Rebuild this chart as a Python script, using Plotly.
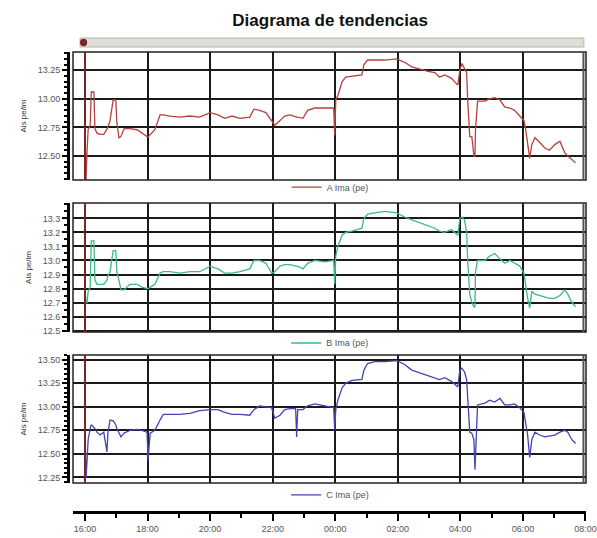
import plotly.graph_objects as go
from datetime import datetime

# ---------------- data ----------------
times = ["16:00", "16:02", "16:04", "16:06", "16:10", "16:12", "16:17", "16:19", "16:23", "16:29",
         "16:36", "16:42", "16:44", "16:48", "16:54", "16:59", "17:01", "17:05", "17:09", "17:15",
         "17:26", "17:40", "17:49", "17:59", "18:01", "18:05", "18:14", "18:24", "18:30", "18:43",
         "19:02", "19:21", "19:40", "20:00", "20:15", "20:28", "20:42", "20:57", "21:16", "21:24",
         "21:35", "21:47", "21:58", "22:04", "22:14", "22:23", "22:33", "22:44", "22:46", "22:48",
         "22:58", "23:07", "23:21", "23:40", "23:57", "23:59", "00:01", "00:05", "00:13", "00:20",
         "00:32", "00:51", "00:55", "01:02", "01:16", "01:35", "01:58", "02:13", "02:27", "02:42",
         "02:58", "03:11", "03:20", "03:30", "03:43", "03:55", "03:59", "04:03", "04:08", "04:12",
         "04:14", "04:18", "04:22", "04:26", "04:28", "04:29", "04:33", "04:47", "04:56", "05:06",
         "05:16", "05:25", "05:35", "05:44", "05:54", "06:02", "06:05", "06:09", "06:13", "06:17",
         "06:23", "06:32", "06:42", "06:51", "07:01", "07:11", "07:20", "07:26", "07:34", "07:41"]

ima_a = [12.74, 12.29, 12.55, 12.73, 12.77, 13.06, 13.06, 12.74, 12.70, 12.69,
         12.69, 12.74, 12.75, 12.81, 12.99, 12.99, 12.80, 12.66, 12.67, 12.74,
         12.74, 12.73, 12.70, 12.67, 12.67, 12.69, 12.73, 12.86, 12.86, 12.85,
         12.84, 12.85, 12.84, 12.88, 12.86, 12.83, 12.85, 12.83, 12.84, 12.91,
         12.90, 12.88, 12.81, 12.77, 12.81, 12.85, 12.86, 12.84, 12.84, 12.84,
         12.83, 12.90, 12.92, 12.92, 12.92, 12.68, 12.99, 13.03, 13.15, 13.19,
         13.20, 13.21, 13.30, 13.34, 13.34, 13.34, 13.35, 13.32, 13.28, 13.26,
         13.24, 13.23, 13.19, 13.21, 13.18, 13.12, 13.25, 13.31, 13.27, 13.23,
         12.99, 12.67, 12.67, 12.50, 12.50, 12.73, 12.98, 12.98, 13.00, 13.01,
         12.99, 12.93, 12.92, 12.90, 12.85, 12.81, 12.74, 12.60, 12.48, 12.60,
         12.66, 12.62, 12.57, 12.55, 12.60, 12.63, 12.53, 12.50, 12.47, 12.44]

ima_b = [12.79, 12.70, 12.70, 12.78, 12.81, 13.14, 13.14, 12.86, 12.83, 12.83,
         12.83, 12.86, 12.89, 12.92, 13.07, 13.07, 12.92, 12.86, 12.79, 12.79,
         12.83, 12.83, 12.81, 12.80, 12.80, 12.81, 12.83, 12.91, 12.92, 12.92,
         12.91, 12.92, 12.92, 12.96, 12.94, 12.91, 12.91, 12.92, 12.94, 13.00,
         13.00, 12.98, 12.91, 12.92, 12.96, 12.97, 12.97, 12.96, 12.96, 12.96,
         12.94, 12.98, 13.00, 12.99, 13.00, 12.83, 13.03, 13.10, 13.18, 13.20,
         13.21, 13.23, 13.30, 13.33, 13.34, 13.35, 13.34, 13.31, 13.29, 13.27,
         13.25, 13.23, 13.21, 13.20, 13.22, 13.18, 13.30, 13.31, 13.29, 13.20,
         13.00, 12.76, 12.70, 12.67, 12.67, 12.92, 13.00, 13.00, 13.03, 13.05,
         13.01, 12.98, 13.00, 12.98, 12.96, 12.91, 12.83, 12.73, 12.66, 12.78,
         12.76, 12.75, 12.74, 12.73, 12.73, 12.75, 12.79, 12.76, 12.70, 12.67]

ima_c = [12.75, 12.25, 12.43, 12.65, 12.77, 12.81, 12.78, 12.77, 12.73, 12.70,
         12.73, 12.52, 12.72, 12.86, 12.85, 12.81, 12.77, 12.72, 12.68, 12.72,
         12.75, 12.76, 12.75, 12.73, 12.43, 12.72, 12.75, 12.86, 12.92, 12.92,
         12.92, 12.93, 12.96, 12.97, 12.97, 12.94, 12.92, 12.92, 12.91, 12.97,
         13.01, 13.00, 12.99, 12.88, 12.91, 12.97, 12.98, 12.98, 12.68, 12.97,
         12.97, 13.01, 13.03, 13.01, 12.99, 12.75, 12.97, 13.07, 13.20, 13.25,
         13.28, 13.29, 13.39, 13.46, 13.48, 13.48, 13.49, 13.45, 13.39, 13.36,
         13.33, 13.31, 13.29, 13.31, 13.27, 13.21, 13.39, 13.41, 13.37, 13.29,
         13.13, 12.73, 12.72, 12.65, 12.33, 12.49, 13.02, 13.04, 13.07, 13.05,
         13.09, 13.02, 13.02, 13.03, 12.99, 12.94, 12.81, 12.70, 12.46, 12.65,
         12.73, 12.70, 12.68, 12.69, 12.70, 12.73, 12.75, 12.73, 12.65, 12.61]

series_names = ["A Ima (pe)", "B Ima (pe)", "C Ima (pe)"]
series_colors = ["#b5423e", "#3db88c", "#4343b3"]
cursor_time = "16:00"
x_start, x_end = "15:37", "08:01"
ticks_a = [12.50, 12.75, 13.00, 13.25]
ticks_b = [12.5, 12.6, 12.7, 12.8, 12.9, 13.0, 13.1, 13.2, 13.3]
ticks_c = [12.25, 12.50, 12.75, 13.00, 13.25, 13.50]
ranges = [[12.29, 13.41], [12.49, 13.41], [12.19, 13.55]]
y_title = "Ais pe/im"
title = "Diagrama de tendencias"


def to_dt(hhmm):
    h, m = map(int, hhmm.split(":"))
    day = 1 if h >= 12 else 2
    return datetime(2024, 1, day, h, m)


x = [to_dt(t) for t in times]
xr = [to_dt(x_start), to_dt(x_end)]
cur = to_dt(cursor_time)

FONT = "Liberation Sans, Arial, sans-serif"
fig = go.Figure()

for i, (vals, name, col) in enumerate(zip([ima_a, ima_b, ima_c], series_names, series_colors)):
    sfx = "" if i == 0 else str(i + 1)
    fig.add_trace(go.Scatter(
        x=x, y=vals, name=name, mode="lines",
        line=dict(color=col, width=1.3),
        xaxis="x" + sfx, yaxis="y" + sfx,
        legend="legend" + sfx,
    ))

xdom = [0.1223, 0.9816]
ydoms = [[0.6654, 0.9033], [0.3829, 0.6227], [0.1022, 0.3401]]
two_h = 7200000

layout = dict(
    width=597, height=538, autosize=False,
    margin=dict(l=0, r=0, t=0, b=0, autoexpand=False),
    paper_bgcolor="white", plot_bgcolor="white",
    font=dict(family=FONT, size=9, color="#444"),
    title=dict(text="<b>" + title + "</b>", x=0.553, y=0.963, xanchor="center", yanchor="middle",
               font=dict(family=FONT, size=17, color="#111")),
    showlegend=True,
)

ticksets = [ticks_a, ticks_b, ticks_c]
fmts = [".2f", ".1f", ".2f"]
legend_y = [0.652, 0.3625, 0.080]

for i in range(3):
    sfx = "" if i == 0 else str(i + 1)
    xa = dict(
        domain=xdom, anchor="y" + sfx, range=xr, type="date", automargin=False,
        tick0=to_dt("16:00"), dtick=two_h, showticklabels=False, ticks="",
        showgrid=True, gridcolor="#1a1a1a", gridwidth=1.5, showline=False, zeroline=False,
    )
    if i > 0:
        xa["matches"] = "x"
    if i == 2:
        xa.update(
            anchor="free", position=0.048, showticklabels=True, tickformat="%H:%M",
            showline=True, linecolor="#000", linewidth=3,
            ticks="outside", ticklen=7, tickwidth=1.5, tickcolor="#000",
            minor=dict(dtick=two_h / 2, ticks="outside", ticklen=4, tickcolor="#000", showgrid=False),
            tickfont=dict(size=9, color="#555"),
        )
    layout["xaxis" + sfx] = xa
    layout["yaxis" + sfx] = dict(
        domain=ydoms[i], anchor="free", position=0.114, range=ranges[i], automargin=False,
        tickvals=ticksets[i], tickformat=fmts[i],
        showgrid=True, gridcolor="#1a1a1a", gridwidth=1.5, zeroline=False,
        showline=True, linecolor="#000", linewidth=3,
        ticks="outside", ticklen=5, tickwidth=1.5, tickcolor="#000",
        minor=dict(ticks="outside", ticklen=3, tickcolor="#000", nticks=6, showgrid=False),
        tickfont=dict(size=9, color="#555"),
        title=dict(text=y_title, font=dict(size=8, color="#333"), standoff=8),
    )
    layout["legend" + sfx] = dict(
        orientation="h", x=0.553, xanchor="center", y=legend_y[i], yanchor="middle",
        bgcolor="rgba(0,0,0,0)", font=dict(size=9, color="#555"), itemwidth=30,
    )

shapes = []
for i in range(3):
    sfx = "" if i == 0 else str(i + 1)
    shapes.append(dict(type="rect", xref="x" + sfx + " domain", yref="y" + sfx + " domain",
                       x0=0, x1=1, y0=0, y1=1, line=dict(color="#222", width=1.5)))
    shapes.append(dict(type="line", xref="x" + sfx + " domain", yref="y" + sfx + " domain",
                       x0=0.995, x1=0.995, y0=0, y1=1, line=dict(color="#555", width=2)))
    shapes.append(dict(type="line", xref="x" + sfx, yref="y" + sfx + " domain",
                       x0=cur, x1=cur, y0=0, y1=1, line=dict(color="#7a2525", width=2)))
# scroll strip above top panel
shapes.append(dict(type="rect", xref="paper", yref="paper", x0=0.134, x1=0.978, y0=0.9126, y1=0.9294,
                   fillcolor="#deded6", line=dict(color="#b5b5ad", width=1)))
shapes.append(dict(type="circle", xref="paper", yref="paper", x0=0.134, x1=0.146, y0=0.914, y1=0.928,
                   fillcolor="#7a2525", line=dict(width=0)))
layout["shapes"] = shapes

fig.update_layout(**layout)
fig.write_html("out.html",
               config={"displayModeBar": False},
               post_script="document.body.style.margin='0';document.body.style.overflow='hidden';")
